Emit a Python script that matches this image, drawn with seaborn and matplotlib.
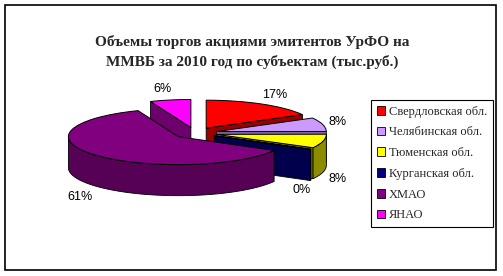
import numpy as np
import matplotlib
matplotlib.use("Agg")
import matplotlib.pyplot as plt
import seaborn as sns
from matplotlib.patches import Rectangle, Patch, Polygon

# ---------------- data ----------------
regions = ["Свердловская обл.", "Челябинская обл.", "Тюменская обл.",
           "Курганская обл.", "ХМАО", "ЯНАО"]
shares = [17, 8, 8, 0.3, 61, 6]
pct_labels = ["17%", "8%", "8%", "0%", "61%", "6%"]
title_text = "Объемы торгов акциями эмитентов УрФО на\nММВБ за 2010 год по субъектам (тыс.руб.)"

# ---------------- style ----------------
top_colors = ["#ff0000", "#cc99ff", "#ffff00", "#000080", "#800080", "#ff00ff"]
side_colors = ["#990000", "#7f6699", "#8c8c00", "#00004d", "#560056", "#6e006e"]
explode = [0.2] * 6
label_nudge_px = [(5, 0), (0, 0), (0, 0), (-22, 0), (-4, 0), (-5, 0)]

sns.set_theme(style="white")
plt.rcParams["font.family"] = ["Liberation Sans", "DejaVu Sans"]

W, H = 503, 276
fig = plt.figure(figsize=(W / 100, H / 100), dpi=100)
fig.patch.set_facecolor("white")
ax = fig.add_axes([0, 0, 1, 1])

# pixel geometry of the pie (center, horizontal / vertical scale, depth)
cx, cy = 195, 133
hs, vs = 110, 28
depth_px = 31
depth = depth_px / vs

# top faces through the pie layout
wedges, _ = ax.pie(shares, explode=explode, colors=top_colors, startangle=90,
                   counterclock=False, radius=1,
                   wedgeprops=dict(linewidth=0.7, edgecolor="black"))

mids = np.array([np.deg2rad((w.theta1 + w.theta2) / 2) for w in wedges])
order = np.argsort(-np.sin(mids))  # back to front

for rank, i in enumerate(order):
    w = wedges[i]
    x0, y0 = w.center
    r = w.r
    t1, t2 = np.deg2rad(w.theta1), np.deg2rad(w.theta2)
    zs = 2 + rank * 2
    faces = []
    # radial walls facing the viewer
    for t, vis in ((t1, np.cos(t1) > 1e-6), (t2, np.cos(t2) < -1e-6)):
        if vis:
            qx, qy = x0 + r * np.cos(t), y0 + r * np.sin(t)
            faces.append([(x0, y0), (qx, qy), (qx, qy - depth), (x0, y0 - depth)])
    # front part of the outer rim
    arc = np.linspace(t1, t2, 400)
    front = arc[np.sin(arc) <= 0]
    if len(front) > 1:
        xs = x0 + r * np.cos(front)
        ys = y0 + r * np.sin(front)
        pts = list(zip(xs, ys)) + list(zip(xs[::-1], ys[::-1] - depth))
        faces.append(pts)
    for f in faces:
        ax.add_patch(Polygon(f, closed=True, facecolor=side_colors[i],
                             edgecolor="black", linewidth=0.6, zorder=zs))
    w.set_zorder(zs + 1)

# percentage labels
pad_x, pad_y = 15, 11
for tm, lab, e, (nx, ny) in zip(mids, pct_labels, explode, label_nudge_px):
    xpx = ((1 + e) * hs + pad_x) * np.cos(tm) + nx
    ypx = ((1 + e) * vs + pad_y) * np.sin(tm) - ny
    if np.sin(tm) < 0:
        ypx -= depth_px + 4
    ax.text(xpx / hs, ypx / vs, lab, ha="center", va="center", fontsize=9,
            color="black", family=["Liberation Sans", "DejaVu Sans"], zorder=50)

ax.set_aspect("auto")
ax.set_xlim(-cx / hs, (W - cx) / hs)
ax.set_ylim((cy - H) / vs, cy / vs)
ax.axis("off")

# title
fig.text(252 / W, 1 - 52 / H, title_text, ha="center", va="center",
         fontsize=11, fontweight="bold", linespacing=1.45,
         family=["Liberation Serif", "DejaVu Serif"])

# legend
handles = [Patch(facecolor=c, edgecolor="black", linewidth=0.6) for c in top_colors]
leg = fig.legend(handles, regions, loc="upper left",
                 bbox_to_anchor=(371 / W, 1 - 100 / H), bbox_transform=fig.transFigure,
                 frameon=True, fancybox=False, edgecolor="black", framealpha=1,
                 prop=dict(family=["Liberation Serif", "DejaVu Serif"], size=9),
                 handlelength=0.7, handleheight=0.7, handletextpad=0.3,
                 labelspacing=0.7, borderpad=0.45, borderaxespad=0)
leg.get_frame().set_linewidth(0.8)

# chart area frame
fig.add_artist(Rectangle((5 / W, (H - 270) / H), (496 - 5) / W, (270 - 5) / H,
                         transform=fig.transFigure, fill=False,
                         edgecolor="black", linewidth=1.2))

fig.savefig("out.png", dpi=100, facecolor="white")
